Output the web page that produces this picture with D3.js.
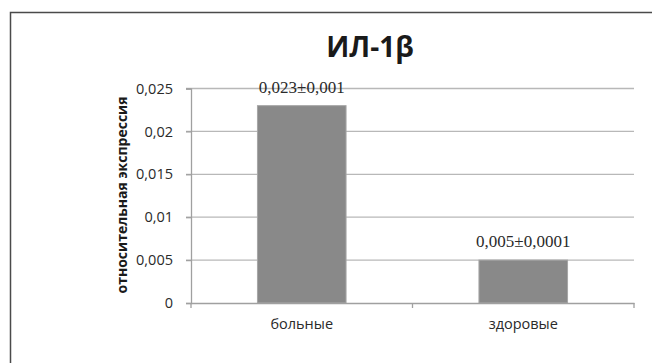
<!DOCTYPE html>
<html>
<head>
<meta charset="utf-8">
<script src="https://cdn.jsdelivr.net/npm/d3@7"></script>
<style>
body{margin:0;background:#fff;}
</style>
</head>
<body>
<div id="chart"></div>
<script>
// data
var categories = ["больные", "здоровые"];
var values = [0.023, 0.005];
var barLabels = ["0,023±0,001", "0,005±0,0001"];
var yTicks = [0, 0.005, 0.01, 0.015, 0.02, 0.025];
var yTickLabels = ["0", "0,005", "0,01", "0,015", "0,02", "0,025"];

var W = 652, H = 363;
var margin = {top:88.5, right:18, bottom:60, left:191},
w = W - margin.left - margin.right,
h = H - margin.top - margin.bottom;

var svg = d3.select("#chart")
.append("svg")
.attr("width", W)
.attr("height", H);

// outer frame (only top and left visible)
svg.append("path")
.attr("d", "M10.5," + H + " V12.5 H" + W)
.attr("fill", "none")
.attr("stroke", "#4a4a4a")
.attr("stroke-width", 1.5);

var g = svg.append("g")
.attr("transform", `translate(${margin.left},${margin.top})`);

var xScale = d3.scaleBand().range([0, w]).domain(categories)
.paddingInner(0.6).paddingOuter(0.3);
var yScale = d3.scaleLinear().domain([0, 0.025]).range([h, 0]);

// gridlines
g.selectAll(".grid")
.data(yTicks.slice(1)).enter()
.append("line")
.attr("x1", -5).attr("x2", w)
.attr("y1", function(d){return yScale(d);})
.attr("y2", function(d){return yScale(d);})
.attr("stroke", "#b8b8b8")
.attr("stroke-width", 1.3);

// y axis
var yAxis = g.append("g")
.call(d3.axisLeft(yScale).tickValues(yTicks)
  .tickFormat(function(d, i){return yTickLabels[i];})
  .tickSize(5).tickPadding(13));
yAxis.select(".domain").attr("stroke", "#a0a0a0").attr("stroke-width", 1.3);
yAxis.selectAll(".tick line").attr("stroke", "#a0a0a0").attr("stroke-width", 1.3);
yAxis.selectAll("text")
.attr("fill", "#2a2a2a")
.style("font-family", "'Open Sans', sans-serif")
.style("font-size", "14.5px");

// bars
g.selectAll(".bar")
.data(values).enter()
.append("rect")
.attr("x", function(d, i){return xScale(categories[i]);})
.attr("width", xScale.bandwidth())
.attr("y", function(d){return yScale(d);})
.attr("height", function(d){return h - yScale(d);})
.attr("fill", "#898989")
.attr("stroke", "#a6a6a6")
.attr("stroke-width", 1);

// x axis
var xAxis = g.append("g")
.attr("transform", "translate(0," + h + ")")
.call(d3.axisBottom(xScale).tickSize(0).tickPadding(16));
xAxis.select(".domain").attr("stroke", "#a0a0a0").attr("stroke-width", 1.3);
xAxis.selectAll("text")
.attr("fill", "#2a2a2a")
.style("font-family", "'Open Sans', sans-serif")
.style("font-size", "14.5px");
// category separators
var seps = [0, w / 2, w];
g.selectAll(".sep")
.data(seps).enter()
.append("line")
.attr("x1", function(d){return d;}).attr("x2", function(d){return d;})
.attr("y1", h).attr("y2", h + 5)
.attr("stroke", "#a0a0a0").attr("stroke-width", 1.3);

// value labels
g.selectAll(".vlab")
.data(values).enter()
.append("text")
.attr("x", function(d, i){return xScale(categories[i]) + xScale.bandwidth() / 2;})
.attr("y", function(d){return yScale(d) - 13;})
.attr("text-anchor", "middle")
.attr("fill", "#2a2a2a")
.style("font-family", "'Liberation Serif', serif")
.style("font-size", "17px")
.text(function(d, i){return barLabels[i];});

// title
svg.append("text")
.attr("x", 370)
.attr("y", 57)
.attr("text-anchor", "middle")
.attr("fill", "#1a1a1a")
.style("font-family", "'Open Sans', sans-serif")
.style("font-weight", "bold")
.style("font-size", "28px")
.text("ИЛ-1β");

// y axis title
svg.append("text")
.attr("transform", "translate(127,195)rotate(-90)")
.attr("text-anchor", "middle")
.attr("fill", "#1a1a1a")
.style("font-family", "'Open Sans', sans-serif")
.style("font-weight", "bold")
.style("font-size", "14px")
.text("относительная экспрессия");
</script>
</body>
</html>
